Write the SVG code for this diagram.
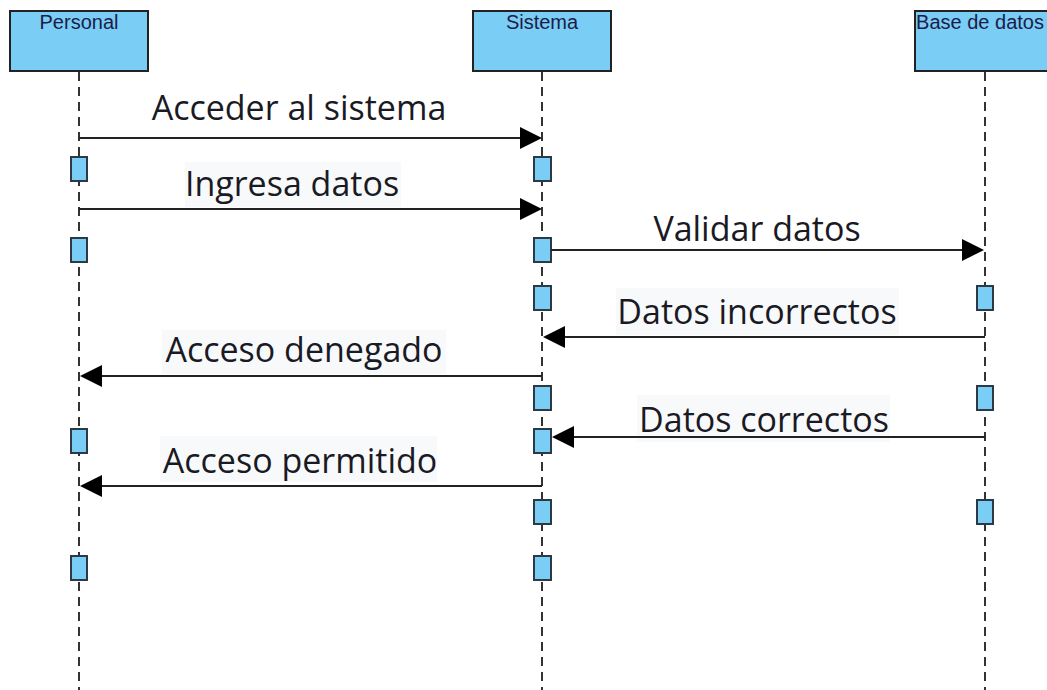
<svg xmlns="http://www.w3.org/2000/svg" width="1047" height="690" viewBox="0 0 1047 690">
<style>
.head{fill:#7acdf4;stroke:#222;stroke-width:2}
.htxt{font-family:"Liberation Sans",Arial,sans-serif;font-size:20px;fill:#1c1c4a;text-anchor:middle}
.life{stroke:#333;stroke-width:2;stroke-dasharray:9,6;fill:none}
.bar{fill:#7acdf4;stroke:#2b3a44;stroke-width:2}
.msg{stroke:#222;stroke-width:2;fill:none}
.ah{fill:#000}
.lbl{font-family:"Open Sans","Noto Sans",sans-serif;font-size:34px;fill:#1a1a24;text-anchor:middle}
.lbg{fill:#f8f9fa}
</style>
<rect width="1047" height="690" fill="#fff"/>
<g id="labels">
<text class="lbl" x="299" y="120">Acceder al sistema</text>
<rect class="lbg" x="185" y="162" width="216" height="45"/>
<text class="lbl" x="292" y="196">Ingresa datos</text>
<text class="lbl" x="757" y="241">Validar datos</text>
<rect class="lbg" x="616" y="288" width="283" height="47"/>
<text class="lbl" x="757" y="324">Datos incorrectos</text>
<rect class="lbg" x="162" y="330" width="284" height="44"/>
<text class="lbl" x="304" y="362">Acceso denegado</text>
<rect class="lbg" x="637" y="395" width="253" height="47"/>
<text class="lbl" x="764" y="432">Datos correctos</text>
<rect class="lbg" x="160" y="436" width="277" height="46"/>
<text class="lbl" x="300" y="473">Acceso permitido</text>
</g>
<g id="personal">
<line class="life" x1="79" y1="72" x2="79" y2="690"/>
<rect class="head" x="10" y="11" width="138" height="60"/>
<text class="htxt" x="79" y="29">Personal</text>
<rect class="bar" x="71" y="157" width="16" height="24"/>
<rect class="bar" x="71" y="238" width="16" height="24"/>
<rect class="bar" x="71" y="429" width="16" height="24"/>
<rect class="bar" x="71" y="556" width="16" height="24"/>
</g>
<g id="sistema">
<line class="life" x1="542" y1="72" x2="542" y2="690"/>
<rect class="head" x="473" y="11" width="138" height="60"/>
<text class="htxt" x="542" y="29">Sistema</text>
<rect class="bar" x="534" y="157" width="17" height="24"/>
<rect class="bar" x="534" y="238" width="17" height="24"/>
<rect class="bar" x="534" y="286" width="17" height="24"/>
<rect class="bar" x="534" y="386" width="17" height="24"/>
<rect class="bar" x="534" y="429" width="17" height="24"/>
<rect class="bar" x="534" y="500" width="17" height="24"/>
<rect class="bar" x="534" y="556" width="17" height="24"/>
</g>
<g id="base-de-datos">
<line class="life" x1="985" y1="72" x2="985" y2="690"/>
<rect class="head" x="915" y="11" width="145" height="60"/>
<text class="htxt" x="980" y="29">Base de datos</text>
<rect class="bar" x="977" y="286" width="16" height="24"/>
<rect class="bar" x="977" y="386" width="16" height="24"/>
<rect class="bar" x="977" y="500" width="16" height="24"/>
</g>
<g id="connectors">
<line class="msg" x1="79" y1="138" x2="522" y2="138"/>
<polygon class="ah" points="542,138 520,127 520,149"/>
<line class="msg" x1="79" y1="209" x2="522" y2="209"/>
<polygon class="ah" points="542,209 520,198 520,220"/>
<line class="msg" x1="551" y1="250" x2="963" y2="250"/>
<polygon class="ah" points="984,250 962,239 962,261"/>
<line class="msg" x1="985" y1="337" x2="563" y2="337"/>
<polygon class="ah" points="543,337 565,326 565,348"/>
<line class="msg" x1="542" y1="376" x2="100" y2="376"/>
<polygon class="ah" points="80,376 102,365 102,387"/>
<line class="msg" x1="985" y1="437" x2="572" y2="437"/>
<polygon class="ah" points="552,437 574,426 574,448"/>
<line class="msg" x1="542" y1="486" x2="100" y2="486"/>
<polygon class="ah" points="80,486 102,475 102,497"/>
</g>
</svg>
